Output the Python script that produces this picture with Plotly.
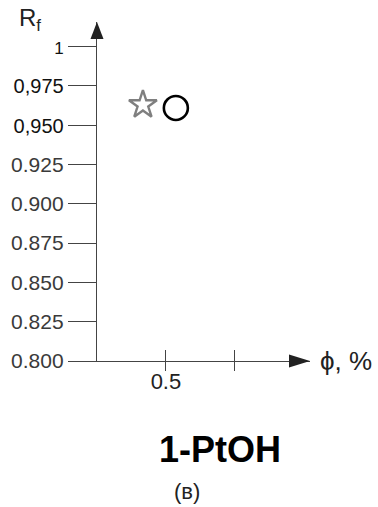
import plotly.graph_objects as go

# Data
phi_star = [0.333]
rf_star = [0.963]
phi_circle = [0.572]
rf_circle = [0.961]

y_tickvals = [1.0, 0.975, 0.95, 0.925, 0.9, 0.875, 0.85, 0.825, 0.8]
y_ticktext = ["1", "0,975", "0,950", "0.925", "0.900", "0.875", "0.850", "0.825", "0.800"]
x_labelled_ticks = [0.5]
x_labelled_text = ["0.5"]
x_all_ticks = [0.5, 1.0]

X_MAX = 1.545
Y_MIN, Y_MAX = 0.8, 1.0157
AX_COLOR = "#444444"
FONT = "Liberation Sans, Arial, sans-serif"

L, T, B = 97, 22, 146
W = round(X_MAX * 138)
H = 507 - T - B

def style_label(t):
    if t == "1":
        return f"<span style='font-size:17px;color:#111'>{t}</span>"
    if "," in t:
        return f"<span style='font-size:20px;color:#111'>{t}</span>"
    return t

fig = go.Figure()
fig.add_trace(go.Scatter(x=phi_star, y=rf_star, mode="markers",
                         marker=dict(symbol="star-open", size=21, color="#7f7f7f",
                                     line=dict(color="#7f7f7f", width=2.4)),
                         showlegend=False))
fig.add_trace(go.Scatter(x=phi_circle, y=rf_circle, mode="markers",
                         marker=dict(symbol="circle-open", size=24, color="#000000",
                                     line=dict(color="#000000", width=2.6)),
                         showlegend=False))
# invisible traces to activate overlay axes
fig.add_trace(go.Scatter(x=[None], y=[None], xaxis="x2", showlegend=False))
fig.add_trace(go.Scatter(x=[None], y=[None], xaxis="x3", showlegend=False))

common_x = dict(range=[0, X_MAX], showgrid=False, zeroline=False)
fig.update_layout(
    width=378, height=507,
    margin=dict(l=L, r=378 - L - W, t=T, b=B),
    paper_bgcolor="white", plot_bgcolor="white",
    font=dict(family=FONT, color="#333333"),
    xaxis=dict(**common_x, showline=True, linecolor=AX_COLOR, linewidth=1.3,
               ticks="", tickvals=x_labelled_ticks, ticktext=x_labelled_text,
               tickfont=dict(size=22, color="#222")),
    xaxis2=dict(**common_x, overlaying="x", anchor="y", side="bottom",
                showline=False, ticks="inside", ticklen=11, tickwidth=1.3,
                tickcolor=AX_COLOR, tickvals=x_all_ticks, showticklabels=False),
    xaxis3=dict(**common_x, overlaying="x", anchor="y", side="bottom",
                showline=False, ticks="outside", ticklen=9, tickwidth=1.3,
                tickcolor=AX_COLOR, tickvals=x_all_ticks, showticklabels=False),
    yaxis=dict(range=[Y_MIN, Y_MAX], showgrid=False, zeroline=False,
               showline=True, linecolor=AX_COLOR, linewidth=1.3,
               ticks="outside", ticklen=28, tickwidth=1.3, tickcolor=AX_COLOR,
               tickvals=y_tickvals, ticktext=[style_label(t) for t in y_ticktext],
               tickfont=dict(size=21, color="#3a3a3a")),
)

def px(x):
    return (x - L) / W
def py(y):
    return (T + H - y) / H

def tri(points):
    p = [f"{px(a):.5f},{py(b):.5f}" for a, b in points]
    return "M " + " L ".join(p) + " Z"

# axis arrowheads (pixel geometry converted to paper units)
x_tip = L + W
y_axis_px = T + H
fig.add_shape(type="path", xref="paper", yref="paper",
              path=tri([(x_tip - 21, y_axis_px - 6.5), (x_tip, y_axis_px), (x_tip - 21, y_axis_px + 6.5)]),
              fillcolor="#222", line=dict(width=0))
fig.add_shape(type="path", xref="paper", yref="paper",
              path=tri([(L - 6.5, T + 17), (L, T), (L + 6.5, T + 17)]),
              fillcolor="#222", line=dict(width=0))

def note(xp, yp, text, size, color="#222"):
    fig.add_annotation(x=px(xp), y=py(yp), xref="paper", yref="paper", showarrow=False,
                       xanchor="center", yanchor="middle", text=text,
                       font=dict(size=size, color=color))

note(30, 20, "R<sub>f</sub>", 24)
note(346, 361, "ϕ, %", 26)
note(220, 449, "<b>1-PtOH</b>", 36, "#000")
note(187, 491, "(в)", 22)

fig.write_html("out.html")
